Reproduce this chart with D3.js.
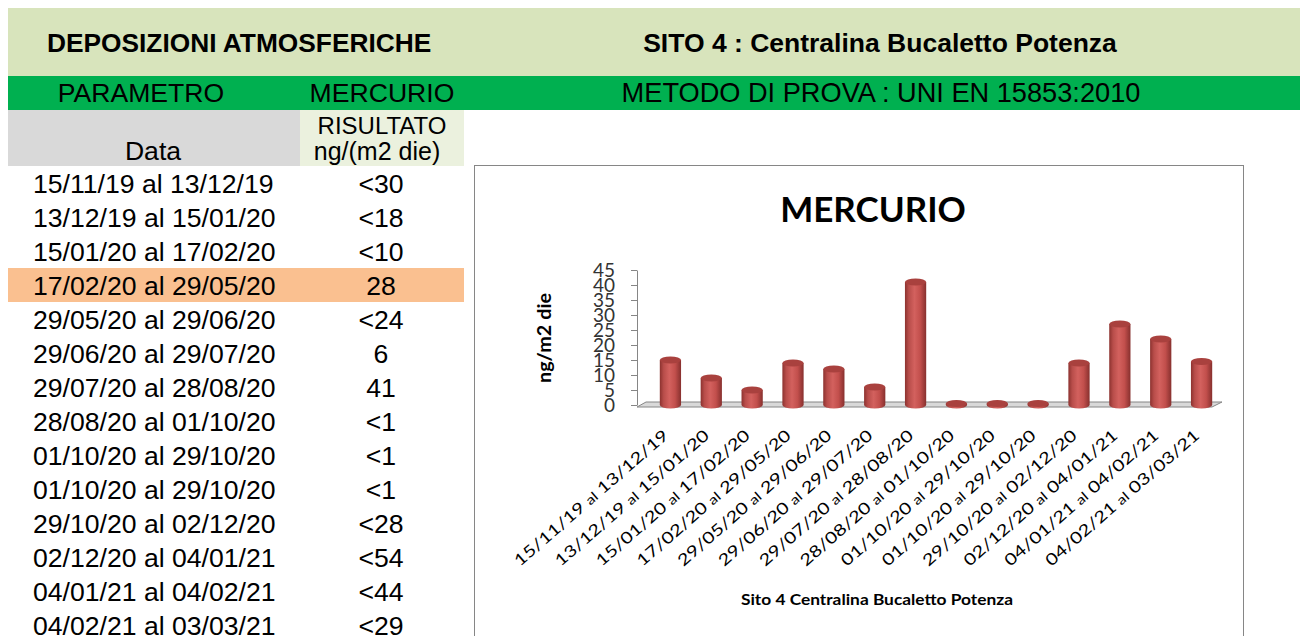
<!DOCTYPE html>
<html>
<head>
<meta charset="utf-8">
<script src="https://cdn.jsdelivr.net/npm/d3@7"></script>
<style>
  body { margin: 0; background: #fff; }
  svg { display: block; }
</style>
</head>
<body>
<svg id="sheet" width="1300" height="636"></svg>
<script>
// sampling periods, as written in the sheet
const periods = [
  '15/11/19 al 13/12/19', '13/12/19 al 15/01/20', '15/01/20 al 17/02/20', '17/02/20 al 29/05/20',
  '29/05/20 al 29/06/20', '29/06/20 al 29/07/20', '29/07/20 al 28/08/20', '28/08/20 al 01/10/20',
  '01/10/20 al 29/10/20', '01/10/20 al 29/10/20', '29/10/20 al 02/12/20', '02/12/20 al 04/01/21',
  '04/01/21 al 04/02/21', '04/02/21 al 03/03/21',
];
// RISULTATO column, ng/(m2 die)
const results = ['<30', '<18', '<10', '28', '<24', '6', '41', '<1', '<1', '<1', '<28', '<54', '<44', '<29'];
// values drawn in the chart (half of the limit when "<")
const plotted = [15, 9, 5, 14, 12, 6, 41, 0.5, 0.5, 0.5, 14, 27, 22, 14.5];
const yTicks = [0, 5, 10, 15, 20, 25, 30, 35, 40, 45];
const flaggedRow = 3;

const tableFont = '"Liberation Sans", Arial, sans-serif';
const chartFont = 'Lato, "Open Sans", sans-serif';

const svg = d3.select('#sheet');

const addText = (parent, txt, x, y, opts = {}) => parent.append('text')
  .attr('x', x).attr('y', y)
  .attr('text-anchor', opts.anchor || 'start')
  .attr('font-family', opts.font || tableFont)
  .attr('font-size', opts.size || 26.6)
  .attr('font-weight', opts.weight || 'normal')
  .attr('fill', opts.fill || '#000')
  .text(txt);

// ---- sheet header ----
svg.append('rect').attr('x', 8).attr('y', 8).attr('width', 1292).attr('height', 68).attr('fill', '#d8e4bc');
svg.append('rect').attr('x', 8).attr('y', 76).attr('width', 1292).attr('height', 34).attr('fill', '#00b050');
svg.append('rect').attr('x', 8).attr('y', 110).attr('width', 292).attr('height', 56).attr('fill', '#d9d9d9');
svg.append('rect').attr('x', 300).attr('y', 110).attr('width', 164).attr('height', 56).attr('fill', '#ebf1de');

addText(svg, 'DEPOSIZIONI ATMOSFERICHE', 47, 52, { weight: 'bold', size: 26.3 });
addText(svg, 'SITO 4 : Centralina Bucaletto Potenza', 880, 52, { weight: 'bold', size: 26.5, anchor: 'middle' });
addText(svg, 'PARAMETRO', 141, 102, { anchor: 'middle' });
addText(svg, 'MERCURIO', 382, 102, { anchor: 'middle' });
addText(svg, 'METODO DI PROVA : UNI EN 15853:2010', 881, 102, { anchor: 'middle', size: 27.2 });
addText(svg, 'Data', 153, 160, { anchor: 'middle' });
addText(svg, 'RISULTATO', 382, 134, { anchor: 'middle', size: 24 });
addText(svg, 'ng/(m2 die)', 377, 160, { anchor: 'middle', size: 25 });

// ---- table rows ----
const rowScale = d3.scaleBand()
  .domain(d3.range(periods.length))
  .range([166, 166 + 34 * periods.length]);

const rows = svg.append('g').selectAll('g')
  .data(periods.map((p, i) => ({ p, r: results[i], i })))
  .join('g')
  .attr('transform', d => `translate(0, ${rowScale(d.i)})`);

rows.filter(d => d.i === flaggedRow).append('rect')
  .attr('x', 8).attr('width', 456).attr('height', rowScale.bandwidth())
  .attr('fill', '#fac090');
rows.each(function (d) {
  const g = d3.select(this);
  addText(g, d.p, 33, 27);
  addText(g, d.r, 381, 27, { anchor: 'middle' });
});

// ---- chart ----
const chart = svg.append('g');
chart.append('rect')
  .attr('x', 474.5).attr('y', 165.5).attr('width', 769).attr('height', 500)
  .attr('fill', '#fff').attr('stroke', '#868686');

addText(chart, 'MERCURIO', 873, 222, { font: chartFont, weight: 'bold', size: 35, anchor: 'middle' });
addText(chart, 'Sito 4 Centralina Bucaletto Potenza', 877, 605, { font: chartFont, weight: 'bold', size: 16, anchor: 'middle' })
  .attr('textLength', 272).attr('lengthAdjust', 'spacingAndGlyphs');
chart.append('text')
  .attr('transform', 'translate(551, 338) rotate(-90)')
  .attr('text-anchor', 'middle')
  .attr('font-family', chartFont).attr('font-weight', 'bold').attr('font-size', 18)
  .attr('textLength', 90).attr('lengthAdjust', 'spacingAndGlyphs')
  .text('ng/m2 die');

const x = d3.scaleBand()
  .domain(d3.range(plotted.length))
  .range([650, 1222])
  .paddingInner(0.48)
  .paddingOuter(0.24);
const y = d3.scaleLinear().domain([0, 45]).range([405, 270]);

// floor of the 3D plot
const floorY = y(0);
chart.append('polygon')
  .attr('points', [[637, floorY + 2], [x.range()[1] - 10, floorY + 2], [x.range()[1], floorY - 3], [646, floorY - 3]].join(' '))
  .attr('fill', '#d9d9d9').attr('stroke', '#868686').attr('stroke-width', 1);

const yAxis = chart.append('g')
  .attr('transform', 'translate(637, 0)')
  .call(d3.axisLeft(y).tickValues(yTicks).tickSize(6).tickSizeOuter(0).tickPadding(16));
yAxis.select('.domain').attr('stroke', '#868686');
yAxis.selectAll('.tick line').attr('stroke', '#868686');
yAxis.selectAll('.tick text')
  .attr('font-family', chartFont).attr('font-size', 19).attr('fill', '#333');

// cylinder shading
const grad = svg.append('defs').append('linearGradient').attr('id', 'cyl');
[['0%', '#8c322f'], ['18%', '#b84d4a'], ['45%', '#d3615e'], ['72%', '#c24f4c'], ['100%', '#87302e']]
  .forEach(([o, c]) => grad.append('stop').attr('offset', o).attr('stop-color', c));

const bw = x.bandwidth();
const ry = 3.5;
const bars = chart.append('g').selectAll('g')
  .data(plotted.map((v, i) => ({ v, i })))
  .join('g')
  .attr('transform', d => `translate(${x(d.i)}, 0)`);

bars.append('path')
  .attr('d', d => {
    const top = y(d.v);
    return `M0,${top} L0,${floorY} A${bw / 2},${ry} 0 0 0 ${bw},${floorY} L${bw},${top} Z`;
  })
  .attr('fill', 'url(#cyl)');
bars.append('ellipse')
  .attr('cx', bw / 2).attr('cy', d => y(d.v))
  .attr('rx', bw / 2).attr('ry', ry)
  .attr('fill', '#a9413e');

// category axis, labels slanted
const xAxis = chart.append('g')
  .attr('transform', `translate(0, ${floorY + 2})`)
  .call(d3.axisBottom(x).tickSize(0).tickFormat(i => periods[i]));
xAxis.select('.domain').remove();
xAxis.selectAll('.tick text')
  .attr('x', 0).attr('y', 0).attr('dy', 0)
  .attr('transform', 'translate(-1, 30) rotate(-41)')
  .attr('text-anchor', 'end')
  .attr('font-family', chartFont).attr('font-size', 16).attr('fill', '#000')
  .attr('textLength', 198).attr('lengthAdjust', 'spacingAndGlyphs')
  .each(function (i) {
    const [from, to] = periods[i].split(' al ');
    const t = d3.select(this).text(null);
    t.append('tspan').text(`${from} `);
    t.append('tspan').attr('font-size', 13).text('al');
    t.append('tspan').text(` ${to}`);
  });
</script>
</body>
</html>
